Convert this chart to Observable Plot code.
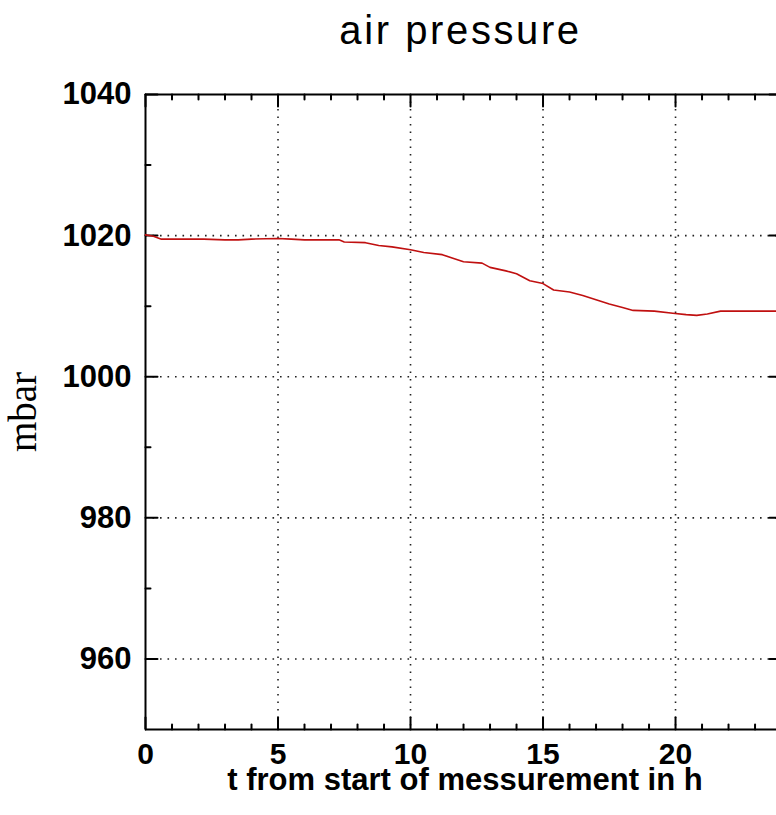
<!DOCTYPE html>
<html>
<head>
<meta charset="utf-8">
<script src="https://cdn.jsdelivr.net/npm/d3@7"></script>
<script src="https://cdn.jsdelivr.net/npm/@observablehq/plot@0.6"></script>
<style>
html, body { margin: 0; padding: 0; background: #fff; overflow: hidden; }
#title {
  box-sizing: border-box;
  height: 70px; width: 776px;
  padding: 10px 0 0 145px;
  font-family: "Liberation Sans", Arial, sans-serif;
  font-size: 40px; line-height: 40px;
  letter-spacing: 2.6px;
  text-align: center; color: #000;
}
</style>
</head>
<body>
<div id="title">air pressure</div>
<div id="chart"></div>
<script>
// Time since start of measurement (h)
const times = [0.0, 0.3, 0.6, 1.5, 2.2, 3.0, 3.5, 4.0, 5.0, 5.5, 6.0, 7.3, 7.5, 8.3, 8.8, 9.3,
  10.0, 10.5, 11.2, 11.6, 12.0, 12.7, 13.0, 13.6, 14.0, 14.5, 15.0, 15.4, 16.0, 16.5, 17.0,
  17.5, 18.0, 18.4, 19.2, 19.9, 20.4, 20.8, 21.2, 21.7, 22.5, 23.81];
// Air pressure (mbar)
const pressure = [1020.1, 1019.9, 1019.5, 1019.5, 1019.5, 1019.4, 1019.4, 1019.5, 1019.6, 1019.5,
  1019.4, 1019.4, 1019.1, 1019.0, 1018.6, 1018.4, 1018.0, 1017.6, 1017.3, 1016.8, 1016.3,
  1016.1, 1015.5, 1015.0, 1014.6, 1013.6, 1013.2, 1012.3, 1012.0, 1011.5, 1010.9, 1010.3,
  1009.8, 1009.4, 1009.3, 1009.0, 1008.8, 1008.7, 1008.9, 1009.3, 1009.3, 1009.3];

const xDomain = [0, 23.81];
const yDomain = [950, 1040];
const xMajor = [0, 5, 10, 15, 20];
const xMinor = [1, 2, 3, 4, 6, 7, 8, 9, 11, 12, 13, 14, 16, 17, 18, 19, 21, 22, 23];
const xGrid = [5, 10, 15, 20];
const yMajor = [960, 980, 1000, 1020, 1040];
const yMinor = [970, 990, 1010, 1030];
const yGrid = [960, 980, 1000, 1020];
const title = "air pressure";
const xLabel = "t from start of messurement in h";
const yLabel = "mbar";

const tickShape = { draw(ctx, l) { ctx.moveTo(0, 0); ctx.lineTo(0, -l); } };
const tickOpts = { anchor: "start", shape: tickShape, stroke: "#000", strokeWidth: 2 };
const gridOpts = { stroke: "#222", strokeWidth: 1.6, strokeDasharray: "1.6,5.9" };

const chart = Plot.plot({
  width: 776,
  height: 745,
  marginLeft: 145,
  marginRight: 0,
  marginTop: 24,
  marginBottom: 86,
  style: { fontFamily: "'Liberation Sans', Arial, sans-serif", background: "#fff", color: "#000" },
  x: { domain: xDomain },
  y: { domain: yDomain },
  marks: [
    Plot.ruleX(xGrid, gridOpts),
    Plot.ruleY(yGrid, gridOpts),
    Plot.ruleX([xDomain[0]], { stroke: "#000", strokeWidth: 2 }),
    Plot.ruleY(yDomain, { stroke: "#000", strokeWidth: 2 }),
    // bottom ticks
    Plot.vector(xMajor, { x: d => d, frameAnchor: "bottom", length: 12, rotate: 0, ...tickOpts }),
    Plot.vector(xMinor, { x: d => d, frameAnchor: "bottom", length: 5, rotate: 0, ...tickOpts }),
    // top ticks
    Plot.vector(xMajor, { x: d => d, frameAnchor: "top", length: 12, rotate: 180, ...tickOpts }),
    Plot.vector(xMinor, { x: d => d, frameAnchor: "top", length: 5, rotate: 180, ...tickOpts }),
    // left ticks
    Plot.vector(yMajor, { y: d => d, frameAnchor: "left", length: 12, rotate: 90, ...tickOpts }),
    Plot.vector(yMinor, { y: d => d, frameAnchor: "left", length: 5, rotate: 90, ...tickOpts }),
    // right ticks (partially cut off at the edge)
    Plot.vector(yMajor, { y: d => d, frameAnchor: "right", length: 7, rotate: 270, ...tickOpts }),
    Plot.line(times, { x: times, y: pressure, stroke: "#c01010", strokeWidth: 1.6 }),
    Plot.axisX({ ticks: xMajor, tickSize: 0, tickPadding: 13, tickFormat: d => String(d),
      fontSize: 30, fontWeight: "bold", label: null }),
    Plot.axisY({ ticks: yMajor, tickSize: 0, tickPadding: 14, tickFormat: d => String(d),
      fontSize: 31, fontWeight: "bold", label: null }),
    Plot.text([xLabel], { frameAnchor: "bottom", dx: 4, dy: 51, fontSize: 31, fontWeight: "bold",
      textAnchor: "middle", lineAnchor: "middle", text: d => d }),
    Plot.text([yLabel], { frameAnchor: "left", dx: -122, rotate: -90, fontSize: 39,
      textAnchor: "middle", lineAnchor: "middle",
      fontFamily: "'Liberation Serif', 'DejaVu Serif', serif", text: d => d })
  ]
});
document.getElementById("chart").appendChild(chart);
</script>
</body>
</html>
